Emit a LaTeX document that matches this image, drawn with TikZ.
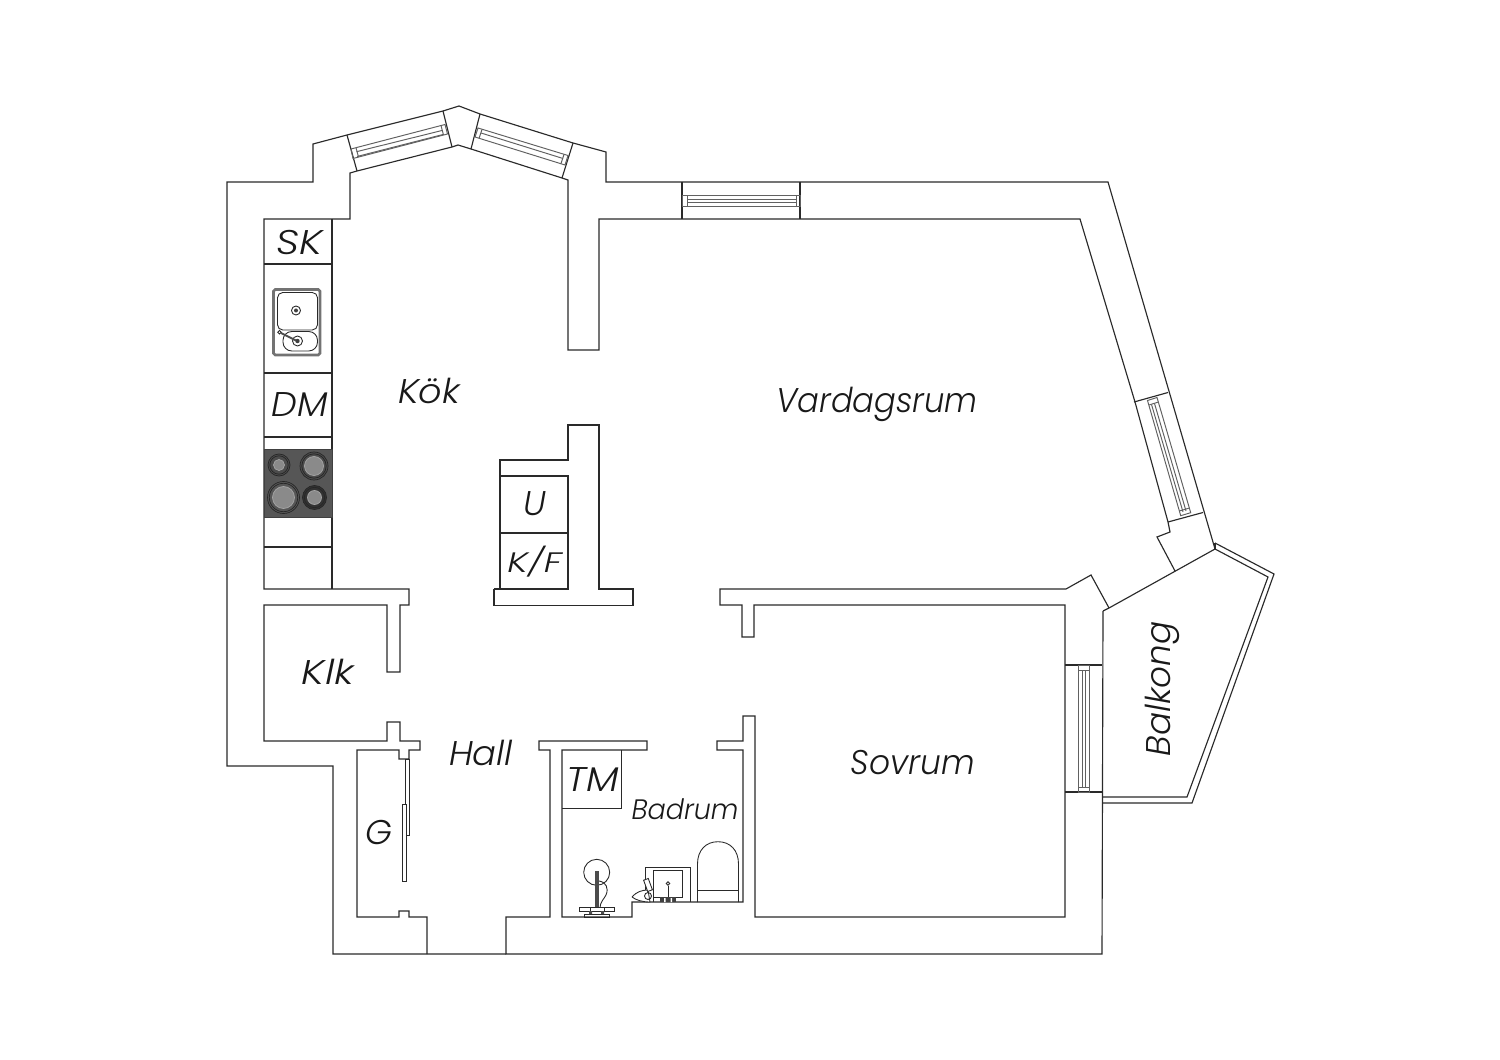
\documentclass[tikz,border=0pt]{standalone}
\usepackage{graphicx}
\usepackage{fontspec}
\setmainfont{Poppins Light}[ItalicFont={Poppins Light Italic}]
\definecolor{wallc}{HTML}{2A2A2A}
\definecolor{hobc}{HTML}{565656}
\definecolor{burnc}{HTML}{8A8A8A}
\definecolor{ringa}{HTML}{4C4C4C}
\definecolor{ringb}{HTML}{333333}
\newcommand{\sxw}[2]{\scalebox{#1}[1]{#2}}
\tikzset{
  wall/.style={draw=wallc,line width=0.65pt,line join=miter},
  thin wall/.style={draw=wallc,line width=0.5pt},
  glass/.style={draw=black!62,line width=0.55pt},
  lab/.style={font=\fontsize{19.5}{22}\selectfont\itshape,text=black!90,inner sep=0pt},
  smalllab/.style={font=\fontsize{16}{18}\selectfont\itshape,text=black!90,inner sep=0pt},
  burner/.style={draw=black!85,line width=0.4pt},
}
\begin{document}
\begin{tikzpicture}[x=0.02cm,y=-0.02cm]
\useasboundingbox (0,0) rectangle (1500,1060);
\fill[white] (0,0) rectangle (1500,1060);
% outer outline
\draw[wall] (1103,611) -- (1102,954) -- (506,954) -- (506,917) -- (550,917) -- (550,750) -- (539,750) -- (539,741) -- (647,741) -- (647,750) -- (562,750) -- (562,917) -- (632,917) -- (632,902) -- (743,902) -- (743,750) -- (717,750) -- (717,741) -- (743,741) -- (743,716) -- (755,716) -- (755,917) -- (1065,917) -- (1065,605) -- (754,605) -- (754,637) -- (742,637) -- (742,605) -- (720,605) -- (720,589) -- (1066,589) -- (1091,575) -- (1109,608);
\draw[wall] (506,954) -- (427,954) -- (333,954) -- (333,766) -- (227,766) -- (227,182) -- (313,182) -- (313,144) -- (347,135) -- (443,111) -- (459,106) -- (480,114) -- (573,143) -- (606,152) -- (606,182) -- (1108,182) -- (1215,549) -- (1109,608) -- (1103,611);
\draw[wall] (427,954) -- (427,917) -- (409,917) -- (409,911) -- (399,911) -- (399,917) -- (357,917) -- (357,750) -- (399,750) -- (399,759) -- (409,759) -- (409,750) -- (420,750) -- (420,741) -- (400,741) -- (400,722) -- (387,722) -- (387,741) -- (264,741) -- (264,605) -- (387,605) -- (387,672) -- (400,672) -- (400,605) -- (409,605) -- (409,589) -- (264,589) -- (264,219) -- (350,219) -- (350,173) -- (357,171) -- (452,147) -- (458,145) -- (471,149) -- (562,178) -- (568,180) -- (568,350) -- (599,350) -- (599,219) -- (1080,219) -- (1135,402) -- (1168,522) -- (1170,532) -- (1157,537) -- (1175,571);
% kitchen counter
\draw[wall] (332,219) -- (332,589);
\draw[wall] (264,264) -- (332,264) (264,373) -- (332,373) (264,437) -- (332,437) (264,547) -- (332,547);
% sink
\draw[draw=black!55,line width=1.5pt,rounded corners=1pt] (273.5,289.5) rectangle (320,355);
\draw[thin wall,rounded corners=3pt,fill=white] (277.5,292.5) rectangle (317.5,330);
\draw[thin wall,rounded corners=5pt,fill=white] (283,331.5) rectangle (317.5,351);
\draw[thin wall] (296,310.5) circle (4.5);
\fill[black!75] (296,310.5) circle (2);
\draw[thin wall] (297.5,341) circle (5);
\fill[black!75] (297.5,341) circle (2.2);
\draw[draw=black!70,line width=1.1pt] (281,333) -- (296,340.5);
\draw[thin wall,fill=white] (279.5,332.3) circle (1.8);
% hob
\fill[hobc,draw=black!75,line width=0.4pt] (264,449) rectangle (332,517);
\foreach \cx/\cy/\ro/\ri/\rf in {279/465/11/5.5/ringa,314/466/14/9.5/ringa,283.5/497.5/16/11/hobc,314.5/497.5/12/7/ringb}{
  \draw[burner,fill=\rf] (\cx,\cy) circle (\ro);
  \draw[burner] (\cx,\cy) circle (\ro-1.8);
  \draw[draw=black!35,line width=0.4pt,fill=burnc] (\cx,\cy) circle (\ri);
}
% chimney block
\draw[wall] (494,589) -- (494,605.5) -- (633,605.5) -- (633,589) -- (599,589) -- (599,425) -- (568,425) -- (568,460) -- (500,460) -- (500,589);
\draw[wall] (494,589) -- (568,589) -- (568,476) -- (500,476);
\draw[wall] (500,533) -- (568,533);
% window NW
\draw[wall] (347,135) -- (357,171) (443,111) -- (452,147);
\draw[glass] (351,149) -- (445,124.5) -- (447.5,134) -- (353,158.5) -- cycle;
\draw[glass] (356,147.7) -- (358.5,157) (441,125.5) -- (443.5,135);
\draw[glass] (356.5,151.7) -- (442,130.5) (357,156.5) -- (443,134.5);
% window NE
\draw[wall] (480,114) -- (471,149) (573,143) -- (562,178);
\draw[glass] (478,128) -- (568,155.5) -- (565,165) -- (475,137) -- cycle;
\draw[glass] (482,129.5) -- (479,138.5) (564,154.5) -- (561,163.5);
\draw[glass] (481,133) -- (563,158.5);
% window N
\draw[wall] (682,182) -- (682,219) (800,182) -- (800,219);
\draw[glass] (682,195.3) rectangle (800,206.3);
\draw[glass] (687,195.3) -- (687,206.3) (796,195.3) -- (796,206.3);
\draw[glass] (687,199.7) -- (796,199.7) (687,202.7) -- (796,202.7);
% window E
\draw[wall] (1134,402) -- (1168,392.5) (1168,522) -- (1203,512.5);
\draw[glass] (1147.5,400.5) -- (1157,397.5) -- (1190.7,512.7) -- (1180.7,515.7) -- cycle;
\draw[glass] (1149,405) -- (1158.5,402) (1179.3,511) -- (1189.5,508);
\draw[glass] (1151.5,404.5) -- (1183,512) (1154.5,403.5) -- (1186,511);
% window Sovrum
\draw[wall] (1065,665) -- (1102,665) (1065,792) -- (1102,792);
\draw[glass] (1078.3,665) rectangle (1089.3,792);
\draw[glass] (1078.3,670) -- (1089.3,670) (1078.3,787.3) -- (1089.3,787.3);
\draw[glass] (1082.8,670) -- (1082.8,787.3) (1085,670) -- (1085,787.3);
% balcony rail
\draw[wall] (1215,549) -- (1268,577) -- (1187,797) -- (1103,797);
\draw[wall] (1215,543) -- (1274,574) -- (1192,803) -- (1103,803);
\draw[wall] (1215,543) -- (1215,549);
% sliding doors
\draw[thin wall,fill=white] (405,759) rectangle (409,835);
\draw[thin wall,fill=white] (402,804) rectangle (406,881);
% washstand
\draw[thin wall] (596.7,872.3) circle (13);
\fill[black!70] (595,871) rectangle (598.6,908);
\draw[thin wall] (599,881) .. controls (606,882) and (609,888) .. (606,895) .. controls (604,899) and (600,902) .. (600,908);
\draw[thin wall,fill=white] (579.5,907) rectangle (614,911);
\draw[thin wall] (584.5,914) rectangle (609.5,917);
\fill[black!70] (589,911) rectangle (592,914) (601,911) rectangle (604,914);
\draw[thin wall] (590,907) -- (590,911) (604,907) -- (604,911);
% bath sink
\draw[thin wall] (645,902) -- (645,867) -- (690.5,867) -- (690.5,902);
\draw[thin wall] (653.5,902) -- (653.5,870) -- (682.5,870) -- (682.5,897) -- (653.5,897);
\draw[thin wall] (668,885.5) -- (668,897);
\draw[thin wall,fill=white] (668,883.5) circle (1.8);
\fill[black!75] (660,897) rectangle (676,902);
\fill[white] (664,898) rectangle (665.5,902) (670.5,898) rectangle (672,902);
% soap / tap
\draw[thin wall,fill=white] (632,897) .. controls (636,892) and (642,890) .. (648,890) -- (650,902) .. controls (642,902) and (636,900) .. (632,897);
\draw[thin wall,fill=white,rotate around={20:(648,885)}] (645.5,879) rectangle (650.5,891);
\draw[thin wall] (648,896) circle (3.5);
% toilet
\draw[thin wall] (697.5,902) -- (697.5,864) .. controls (697.5,850) and (706,841.7) .. (718,841.7) .. controls (730,841.7) and (738.5,850) .. (738.5,864) -- (738.5,902);
\draw[thin wall] (697.5,890.5) -- (738.5,890.5);
% closets
\draw[wall] (562,808.5) -- (621.5,808.5) -- (621.5,750);
% labels
\node[lab] (sk) at (300,242.5) {\sxw{1.19}{SK}};
\node[lab] (dm) at (299.5,405) {\sxw{1.06}{DM}};
\node[lab] (kok) at (429,391) {\sxw{1.07}{Kök}};
\node[lab] (vr) at (877,404) {\sxw{0.94}{Vardagsrum}};
\node[lab] (u) at (535,504) {U};
\node[smalllab] (kf) at (534.5,562) {\sxw{1.29}{K/F}};
\node[lab] (klk) at (328,672) {\sxw{1.19}{Klk}};
\node[lab] (hall) at (481,753) {\sxw{1.03}{Hall}};
\node[lab] (g) at (379,833) {G};
\node[lab] (tm) at (592.5,780) {\sxw{1.13}{TM}};
\node[smalllab] (bad) at (685,809) {\sxw{0.96}{Badrum}};
\node[lab] (sov) at (913,763) {\sxw{0.96}{Sovrum}};
\node[lab,rotate=90] (bal) at (1162,689) {Balkong};
\end{tikzpicture}
\end{document}
